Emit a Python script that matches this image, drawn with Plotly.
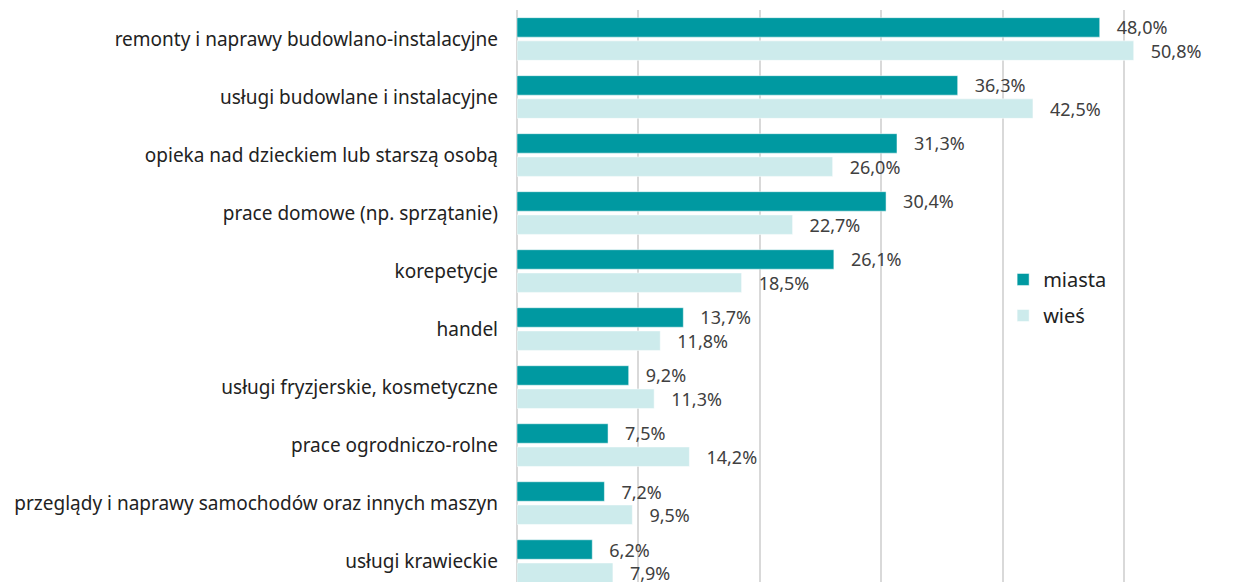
import plotly.graph_objects as go

categories = [
    "remonty i naprawy budowlano-instalacyjne",
    "usługi budowlane i instalacyjne",
    "opieka nad dzieckiem lub starszą osobą",
    "prace domowe (np. sprzątanie)",
    "korepetycje",
    "handel",
    "usługi fryzjerskie, kosmetyczne",
    "prace ogrodniczo-rolne",
    "przeglądy i naprawy samochodów oraz innych maszyn",
    "usługi krawieckie",
]
miasta = [48.0, 36.3, 31.3, 30.4, 26.1, 13.7, 9.2, 7.5, 7.2, 6.2]
wies = [50.8, 42.5, 26.0, 22.7, 18.5, 11.8, 11.3, 14.2, 9.5, 7.9]

FONT = "Noto Sans"

def fmt(v):
    return "   " + f"{v:.1f}".replace(".", ",") + "%"

fig = go.Figure()
fig.add_trace(go.Bar(
    y=categories, x=miasta, orientation="h", name="miasta", legendgroup="a",
    marker=dict(color="#0099A1", line=dict(color="#ffffff", width=0.5)),
    text=[fmt(v) for v in miasta], textposition="outside", cliponaxis=False,
    constraintext="none",
    textfont=dict(family=FONT, size=18, color="#404040"),
))
fig.add_trace(go.Bar(
    y=categories, x=wies, orientation="h", name="wieś", legendgroup="b",
    marker=dict(color="#CDEBEC", line=dict(color="#ffffff", width=0.5)),
    text=[fmt(v) for v in wies], textposition="outside", cliponaxis=False,
    constraintext="none",
    textfont=dict(family=FONT, size=18, color="#404040"),
))

# page has an 8px body margin: compensate so the plot area spans x 517..1234, y 10..582
fig.update_layout(
    width=1226, height=574,
    margin=dict(l=509, r=0, t=2, b=0),
    paper_bgcolor="white", plot_bgcolor="white",
    barmode="group", bargap=0.2, bargroupgap=0.16,
    font=dict(family=FONT, size=19, color="#222222"),
    legend=dict(x=0.678, y=0.563, xanchor="left", yanchor="top",
                font=dict(family=FONT, size=20, color="#222222"),
                bgcolor="rgba(0,0,0,0)", traceorder="grouped", tracegroupgap=7),
    xaxis=dict(range=[0, 59.06], showticklabels=False, ticks="",
               showgrid=True, gridcolor="#D9D9D9", gridwidth=1.5,
               dtick=10, zeroline=True, zerolinecolor="#D9D9D9", zerolinewidth=2),
    yaxis=dict(range=[9.36, -0.5], ticks="", ticklabelstandoff=18,
               tickfont=dict(family=FONT, size=19, color="#222222"),
               showgrid=False, zeroline=False),
)

fig.write_html("out.html")
